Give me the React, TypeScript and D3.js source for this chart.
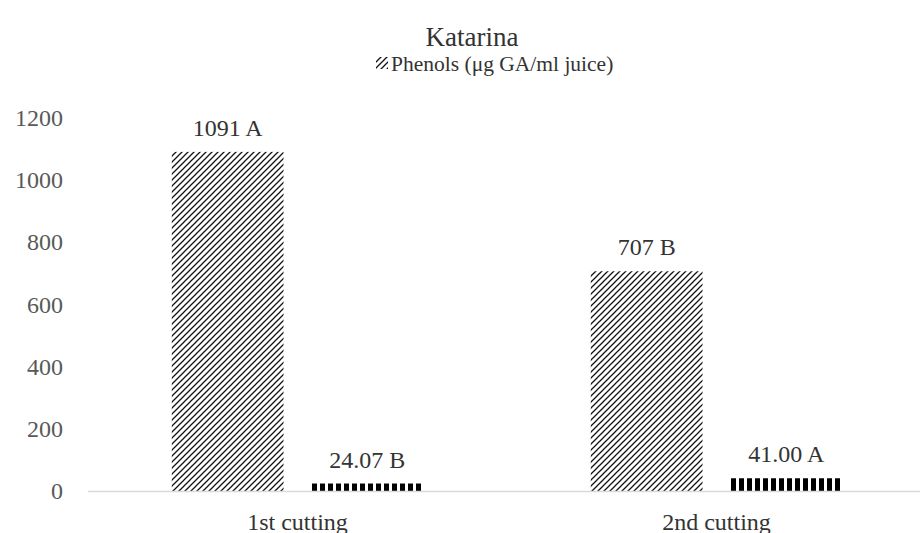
import React, { useEffect } from 'react'
import * as d3 from 'd3'

// data
const cuttings = ['1st cutting', '2nd cutting']
const seriesNames = ['Phenols (μg GA/ml juice)', '']
const phenols = [1091, 707]
const phenolsLabels = ['1091 A', '707 B']
const second = [24.07, 41.0]
const secondLabels = ['24.07 B', '41.00 A']
const yTicks = [0, 200, 400, 600, 800, 1000, 1200]

const W = 920, H = 533
const margin = { top: 118, right: -6, bottom: 42, left: 88 }
const FONT = '"Liberation Serif", serif'

export default function App() {
  useEffect(() => {
    document.body.style.margin = '0'
  }, [])

  const y = d3.scaleLinear([0, 1200], [H - margin.bottom, margin.top])
  const x = d3.scaleBand(cuttings, [margin.left, W - margin.right])
  const xs = d3.scaleBand(['a', 'b'], [0, x.bandwidth()]).paddingInner(0.2).paddingOuter(0.6)

  const rows = cuttings.map((c, i) => ({
    c,
    vals: [
      { key: 'a', v: phenols[i], label: phenolsLabels[i] },
      { key: 'b', v: second[i], label: secondLabels[i] },
    ],
  }))

  return (
    <svg width={W} height={H} style={{ display: 'block', background: '#fff' }} fontFamily={FONT}>
      <defs>
        <pattern id="diag" patternUnits="userSpaceOnUse" width="6" height="6">
          <rect width="6" height="6" fill="#fff" />
          <path d="M-1,7 L7,-1 M-4,4 L4,-4 M2,10 L10,2" stroke="#111" strokeWidth="1.25" />
        </pattern>
        <pattern id="vert" patternUnits="userSpaceOnUse" width="8" height="8" x="312">
          <rect width="8" height="8" fill="#fff" />
          <rect x="0" width="5" height="8" fill="#000" />
        </pattern>
      </defs>

      <text x={472} y={37} textAnchor="middle" dominantBaseline="central" fontSize={27} fill="#333">Katarina</text>
      <rect x={376} y={57} width={12} height={12} fill="url(#diag)" />
      <text x={391} y={64} dominantBaseline="central" fontSize={21.5} fill="#333">{seriesNames[0]}</text>

      {yTicks.map(t => (
        <text key={t} x={63} y={y(t)} textAnchor="end" dominantBaseline="central" fontSize={24} fill="#595959">{t}</text>
      ))}

      {rows.map(r => (
        <g key={r.c} transform={`translate(${x(r.c)},0)`}>
          {r.vals.map(d => (
            <g key={d.key}>
              <rect x={xs(d.key)} y={y(d.v)} width={xs.bandwidth()} height={y(0) - y(d.v)}
                fill={d.key === 'a' ? 'url(#diag)' : 'url(#vert)'} />
              <text x={(xs(d.key) as number) + xs.bandwidth() / 2} y={y(d.v) - 24} textAnchor="middle"
                dominantBaseline="central" fontSize={24} fill="#333">{d.label}</text>
            </g>
          ))}
          <text x={x.bandwidth() / 2} y={522} textAnchor="middle" dominantBaseline="central" fontSize={24} fill="#333">{r.c}</text>
        </g>
      ))}

      <line x1={margin.left} x2={W} y1={y(0) + 0.5} y2={y(0) + 0.5} stroke="#d9d9d9" strokeWidth={1.5} />
    </svg>
  )
}
